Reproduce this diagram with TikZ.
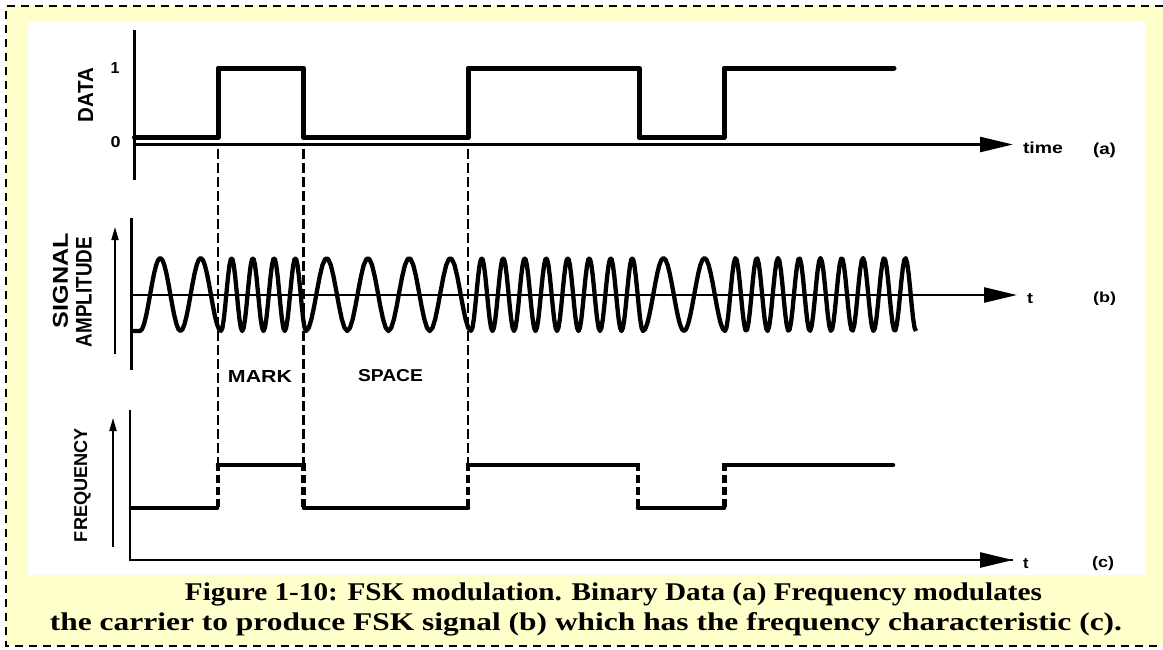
\documentclass[tikz,border=0pt]{standalone}
\usepackage{fontspec}
\usepackage{graphicx}
\setmainfont{Liberation Serif}
\newfontfamily\labfont{Liberation Sans}
\usetikzlibrary{arrows.meta}
\definecolor{capyellow}{HTML}{FFFFCC}
\newcommand\fitlab[3]{\resizebox{#1pt}{#2pt}{\labfont\bfseries #3}}
\newcommand\caplinefit[2]{\resizebox{#1pt}{\height}{\fontsize{25.5pt}{30pt}\selectfont\bfseries #2}}
\begin{document}
\begin{tikzpicture}[x={(1pt,0pt)},y={(0pt,-1pt)},
  axisline/.style={line width=2.6pt},
  bigarrow/.style={-{Triangle[length=33pt,width=15pt]}},
  uparrow/.style={line width=1.8pt,-{Triangle[length=13pt,width=7pt]}},
  datasig/.style={line width=5pt,line join=round,line cap=round},
  wave/.style={line width=4.3pt,line join=round},
  freqlevel/.style={line width=4.5pt,line cap=round},
  freqjump/.style={line width=4.5pt,dash pattern=on 8pt off 4pt},
  guide/.style={line width=2.6pt,dash pattern=on 10pt off 4pt},
  lab/.style={inner sep=0pt,outer sep=0pt},
  frameborder/.style={line width=2pt,dash pattern=on 8pt off 6pt}
]
\useasboundingbox (0,0) rectangle (1163,649);
% background
\fill[capyellow] (0,0) rectangle (1163,649);
\fill[white] (0,0) rectangle (1163,6);
\fill[white] (0,0) rectangle (6,649);
\fill[white] (0,646) rectangle (1163,649);
\fill[white] (28,22) rectangle (1145,575);
\coordinate (frtr) at (1163,6);
\coordinate (frtl) at (6,6);
\coordinate (frbl) at (6,646);
\coordinate (frbr) at (1163,646);
\draw[frameborder] (frtr) -- (frtl) -- (frbl) -- (frbr);

% ---------------- panel (a) ----------------
\coordinate (aytop) at (134.5,30);
\coordinate (aybot) at (134.5,180);
\coordinate (axs) at (134.5,144.5);
\coordinate (axe) at (1013,144.5);
\draw[axisline] (aytop) -- (aybot);
\draw[line width=2.4pt,bigarrow] (axs) -- (axe);
\draw[datasig] (134.5,137.5) -- (218,137.5) -- (218,68) -- (303.5,68) -- (303.5,137.5)
  -- (468,137.5) -- (468,68) -- (639,68) -- (639,137.5) -- (724,137.5) -- (724,68) -- (894,68);
\node[lab] (one) at (115,67.5) {\resizebox{!}{11pt}{\labfont\bfseries 1}};
\node[lab] (zero) at (115.5,142.5) {\fitlab{10}{11}{0}};
\node[lab,rotate=90] (datalab) at (85.5,95) {\fitlab{54}{15}{DATA}};
\node[lab,anchor=base west] (timelab) at (1023,153) {\fitlab{40}{11.5}{time}};
\node[lab,anchor=base west] (alab) at (1093,154) {\fitlab{23}{11.5}{(a)}};

% guides
\coordinate (g1a) at (218,149); \coordinate (g1b) at (218,465);
\coordinate (g2a) at (303.5,149); \coordinate (g2b) at (303.5,465);
\coordinate (g3a) at (468,149); \coordinate (g3b) at (468,465);
\draw[guide] (g1a) -- (g1b);
\draw[guide] (g2a) -- (g2b);
\draw[guide] (g3a) -- (g3b);

% ---------------- panel (b) ----------------
\coordinate (bytop) at (131.7,218);
\coordinate (bybot) at (131.7,370);
\coordinate (bxs) at (131.7,295);
\coordinate (bxe) at (1017,295);
\draw[axisline] (bytop) -- (bybot);
\draw[line width=2.4pt,bigarrow] (bxs) -- (bxe);
\coordinate (bup1) at (115,354); \coordinate (bup2) at (115,227);
\draw[uparrow] (bup1) -- (bup2);
\draw[wave] (133,331) -- (140,331)
  -- plot[domain=140:221,samples=41] (\x,{294.5+36.5*cos((\x-140)*8.8889)})
  -- plot[domain=221:306,samples=61] (\x,{294.5+36.5*cos((\x-221)*16.9412)})
  -- plot[domain=306:471,samples=61] (\x,{294.5+36.5*cos((\x-306)*8.7273)})
  -- plot[domain=471:643,samples=121] (\x,{294.5+36.5*cos((\x-471)*16.7442)})
  -- plot[domain=643:725,samples=41] (\x,{294.5+36.5*cos((\x-643)*8.7805)})
  -- plot[domain=725:916,samples=131] (\x,{294.5+36.5*cos((\x-725)*16.9634)});
\node[lab,rotate=90] (siglab) at (60.5,280.5) {\fitlab{95}{15}{SIGNAL}};
\node[lab,rotate=90] (amplab) at (84,292) {\fitlab{110}{15.5}{AMPLITUDE}};
\node[lab,anchor=base west] (tb) at (1027,303) {\fitlab{6}{10}{t}};
\node[lab,anchor=base west] (blab) at (1093,302.5) {\fitlab{23}{10.5}{(b)}};
\node[lab] (mark) at (260,376) {\fitlab{64}{12}{MARK}};
\node[lab] (space) at (390.5,376) {\fitlab{65}{12}{SPACE}};

% ---------------- panel (c) ----------------
\coordinate (cytop) at (130,410);
\coordinate (corig) at (130,560);
\coordinate (cxe) at (1013,560);
\coordinate (cxa) at (973,560);
\draw[axisline,line join=miter] (cytop) -- (corig) -- (cxe);
\draw[line width=2.6pt,bigarrow] (cxa) -- (cxe);
\coordinate (cup1) at (113,547); \coordinate (cup2) at (113,418);
\draw[uparrow] (cup1) -- (cup2);
\draw[freqlevel] (131,508) -- (217,508);
\draw[freqlevel] (218,465) -- (303,465);
\draw[freqlevel] (304,508) -- (468,508);
\draw[freqlevel] (468,465) -- (637,465);
\draw[freqlevel] (638,508) -- (724,508);
\draw[freqlevel] (725,465) -- (893,465);
\draw[freqjump] (218,463) -- (218,510);
\draw[freqjump] (303.5,463) -- (303.5,510);
\draw[freqjump] (468,463) -- (468,510);
\draw[freqjump] (638,463) -- (638,510);
\draw[freqjump] (724.5,463) -- (724.5,510);
\node[lab,rotate=90] (freqlab) at (82.5,485) {\fitlab{114}{13}{FREQUENCY}};
\node[lab,anchor=base west] (tc) at (1023,568) {\fitlab{5.5}{10}{t}};
\node[lab,anchor=base west] (clab) at (1092,567) {\fitlab{22}{11}{(c)}};

% ---------------- caption ----------------
\node[lab,anchor=base] (cap1) at (613.5,600) {\caplinefit{857}{Figure 1-10: FSK modulation. Binary Data (a) Frequency modulates}};
\node[lab,anchor=base] (cap2) at (586,630) {\caplinefit{1072}{the carrier to produce FSK signal (b) which has the frequency characteristic (c).}};
\end{tikzpicture}
\end{document}
